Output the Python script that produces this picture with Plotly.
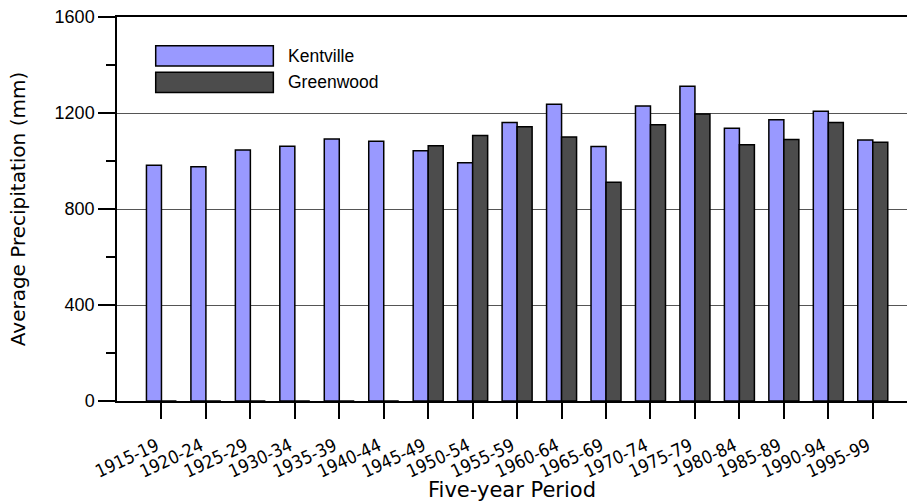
import plotly.graph_objects as go

# Five-year periods and average precipitation (mm) at each station
periods = ["1915-19", "1920-24", "1925-29", "1930-34", "1935-39", "1940-44",
           "1945-49", "1950-54", "1955-59", "1960-64", "1965-69", "1970-74",
           "1975-79", "1980-84", "1985-89", "1990-94", "1995-99"]
kentville = [982, 976, 1046, 1061, 1092, 1082, 1043, 993, 1160, 1236, 1060,
             1229, 1311, 1136, 1172, 1207, 1087]
greenwood = [0, 0, 0, 0, 0, 0, 1064, 1106, 1143, 1100, 911, 1151, 1196,
             1068, 1090, 1160, 1078]

series_names = ["Kentville", "Greenwood"]
series_colors = ["#9999ff", "#4c4c4c"]

fig = go.Figure()
for name, vals, col in zip(series_names, [kentville, greenwood], series_colors):
    fig.add_trace(go.Bar(
        x=periods, y=vals, name=name,
        marker=dict(color=col, line=dict(color="black", width=1.5)),
        showlegend=False,
    ))

# Hand-drawn legend with wide swatches
swatch_y = [(0.8724, 0.9253), (0.8036, 0.8560)]
for (y0, y1), name, col in zip(swatch_y, series_names, series_colors):
    fig.add_shape(type="rect", xref="paper", yref="paper",
                  x0=0.049, x1=0.1979, y0=y0, y1=y1,
                  fillcolor=col, line=dict(color="black", width=1.5))
    fig.add_annotation(xref="paper", yref="paper", x=0.2139, y=(y0 + y1) / 2,
                       text=name, showarrow=False, xanchor="left",
                       yanchor="middle",
                       font=dict(family="Liberation Sans, Arial", size=17.5,
                                 color="black"))

fig.update_layout(
    width=907, height=502,
    margin=dict(l=117, r=0, t=17, b=101),
    paper_bgcolor="white", plot_bgcolor="white",
    barmode="group", bargap=0.325, bargroupgap=0,
    font=dict(family="Liberation Sans, Arial", color="black"),
)

fig.update_xaxes(
    type="category", range=[-1, 16.77], automargin=False,
    showline=True, linecolor="black", linewidth=1.5, mirror=True,
    ticks="outside", ticklen=16, tickwidth=1.5, tickcolor="black",
    tickangle=-25,
    tickfont=dict(family="Liberation Sans Narrow, DejaVu Sans Condensed",
                  size=18),
    ticklabelstandoff=10, ticklabelshift=-5,
    showgrid=False,
    title=dict(text="Five-year Period",
               font=dict(family="DejaVu Sans", size=21), standoff=8),
)

fig.update_yaxes(
    range=[0, 1600], dtick=400, tick0=0, automargin=False,
    showline=True, linecolor="black", linewidth=1.5,
    ticks="outside", ticklen=17, tickwidth=1.5, tickcolor="black",
    tickfont=dict(family="Liberation Sans, Arial", size=18),
    showgrid=True, gridcolor="#555555", gridwidth=1,
    zeroline=False,
    minor=dict(dtick=200, tick0=0, ticks="outside", ticklen=9,
               tickwidth=1.5, tickcolor="black", showgrid=False),
    title=dict(text="Average Precipitation (mm)",
               font=dict(family="DejaVu Sans", size=20), standoff=24),
)

fig.write_html("out.html")
